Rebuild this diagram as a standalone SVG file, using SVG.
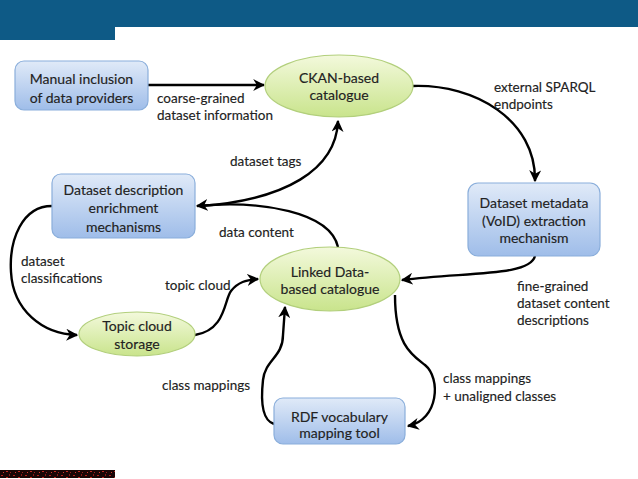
<svg xmlns="http://www.w3.org/2000/svg" width="638" height="479" viewBox="0 0 638 479">
<defs>
<linearGradient id="gb" x1="0" y1="0" x2="0" y2="1">
<stop offset="0" stop-color="#e0eaf8"/>
<stop offset="1" stop-color="#9fbde9"/>
</linearGradient>
<linearGradient id="gg" x1="0" y1="0" x2="0" y2="1">
<stop offset="0" stop-color="#f3f9dc"/>
<stop offset="1" stop-color="#c9e48c"/>
</linearGradient>
<pattern id="noise" width="12" height="6" patternUnits="userSpaceOnUse">
<rect width="12" height="6" fill="#1a0606"/>
<rect x="1" y="1" width="2" height="1" fill="#b0201c"/>
<rect x="6" y="3" width="2" height="1" fill="#c02a22"/>
<rect x="9" y="0" width="1" height="2" fill="#8a1a16"/>
<rect x="3" y="4" width="1" height="1" fill="#d03a30"/>
<rect x="10" y="4" width="1" height="1" fill="#a02020"/>
</pattern>
<marker id="ah" viewBox="0 0 10 10" refX="9" refY="5" markerWidth="5" markerHeight="5" orient="auto" markerUnits="strokeWidth">
<path d="M0,0 L10,5 L0,10 L3,5 Z" fill="#000"/>
</marker>
</defs>
<style>
.box{fill:url(#gb);stroke:#8aaedb;stroke-width:1.2}
.ell{fill:url(#gg);stroke:#b2cf7c;stroke-width:1.2}
.nt{font-family:Lato,"Liberation Sans",sans-serif;font-size:14px;fill:#222;stroke:#222;stroke-width:0.15;text-anchor:middle}
.lb{font-family:Lato,"Liberation Sans",sans-serif;font-size:13.5px;fill:#222;stroke:#222;stroke-width:0.15}
.cn{fill:none;stroke:#000;stroke-width:2.4;marker-end:url(#ah)}
</style>
<rect width="638" height="479" fill="#fff"/>
<rect x="0" y="0" width="638" height="27" fill="#0e5a86"/>
<rect x="0" y="0" width="115" height="40" fill="#0e5a86"/>
<rect x="0" y="470" width="115" height="8" fill="url(#noise)"/>

<g id="connectors">
<path class="cn" d="M148,85 L264,85"/>
<path class="cn" d="M413,86 C475,84 536,120 535,181"/>
<path class="cn" d="M338,247 C330,212 262,200 197,206"/>
<path class="cn" d="M200,206 C285,200 336,170 338,121"/>
<path class="cn" d="M52,206 C22,206 9,240 11,272 C13,310 42,334 77,335"/>
<path class="cn" d="M195,335 C226,330 224,300 231,291 C238,282 246,280 258,279"/>
<path class="cn" d="M274,424 C261,420 261,398 263,380 C265,360 283,357 283,335 L285,307"/>
<path class="cn" d="M395,295 C395,345 412,355 425,365 C441,378 439,420 408,426"/>
<path class="cn" d="M535,256 C530,276 470,272 402,280"/>
</g>

<g id="labels">
<text class="lb" x="157" y="103">coarse-grained</text>
<text class="lb" x="157" y="120">dataset information</text>
<text class="lb" x="494" y="92">external SPARQL</text>
<text class="lb" x="494" y="109">endpoints</text>
<text class="lb" x="230" y="166">dataset tags</text>
<text class="lb" x="219" y="237">data content</text>
<text class="lb" x="21" y="266">dataset</text>
<text class="lb" x="21" y="283">classifications</text>
<text class="lb" x="165" y="290">topic cloud</text>
<text class="lb" x="517" y="291">fine-grained</text>
<text class="lb" x="517" y="308">dataset content</text>
<text class="lb" x="517" y="325">descriptions</text>
<text class="lb" x="162" y="390">class mappings</text>
<text class="lb" x="443" y="383">class mappings</text>
<text class="lb" x="443" y="401">+ unaligned classes</text>
</g>

<g id="manual">
<rect class="box" x="15" y="61" width="133" height="49" rx="9"/>
<text class="nt" x="81.5" y="84">Manual inclusion</text>
<text class="nt" x="81.5" y="103">of data providers</text>
</g>
<g id="ckan">
<ellipse class="ell" cx="339" cy="86" rx="74" ry="31"/>
<text class="nt" x="339" y="83">CKAN-based</text>
<text class="nt" x="339" y="100">catalogue</text>
</g>
<g id="enrichment">
<rect class="box" x="52" y="174" width="143" height="64" rx="9"/>
<text class="nt" x="123.5" y="195">Dataset description</text>
<text class="nt" x="123.5" y="213">enrichment</text>
<text class="nt" x="123.5" y="232">mechanisms</text>
</g>
<g id="void">
<rect class="box" x="468" y="183" width="132" height="73" rx="10"/>
<text class="nt" x="534" y="208">Dataset metadata</text>
<text class="nt" x="534" y="226">(VoID) extraction</text>
<text class="nt" x="534" y="243">mechanism</text>
</g>
<g id="linked">
<ellipse class="ell" cx="330" cy="279" rx="70" ry="32"/>
<text class="nt" x="330" y="277">Linked Data-</text>
<text class="nt" x="330" y="294">based catalogue</text>
</g>
<g id="topic">
<ellipse class="ell" cx="137" cy="334" rx="58" ry="22"/>
<text class="nt" x="137" y="331">Topic cloud</text>
<text class="nt" x="137" y="349">storage</text>
</g>
<g id="rdf">
<rect class="box" x="274" y="398" width="131" height="46" rx="9"/>
<text class="nt" x="339.5" y="422">RDF vocabulary</text>
<text class="nt" x="339.5" y="438">mapping tool</text>
</g>
</svg>
